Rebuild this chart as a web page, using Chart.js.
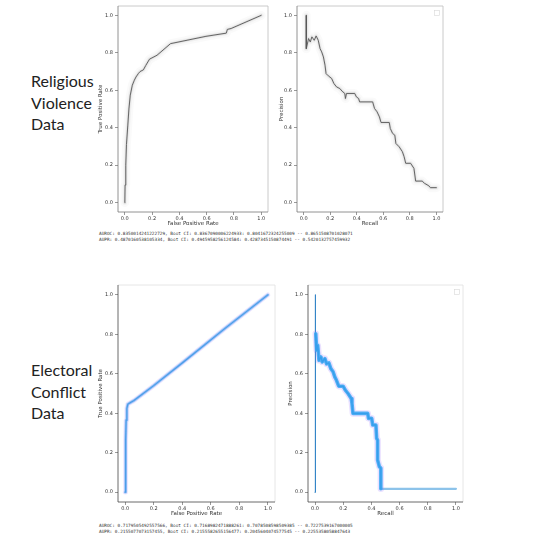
<!DOCTYPE html>
<html>
<head>
<meta charset="utf-8">
<script src="https://cdn.jsdelivr.net/npm/chart.js@4.4.1/dist/chart.umd.min.js"></script>
<style>
  html, body { margin: 0; padding: 0; background: #fff; }
  #page { position: relative; width: 540px; height: 540px; overflow: hidden; }
  canvas { position: absolute; }
  .label { position: absolute; font-family: Lato, sans-serif; font-size: 16px; line-height: 21.5px; color: #222; }
  .stats { position: absolute; font-family: 'DejaVu Sans Mono', monospace; font-size: 4.4px; line-height: 5.5px; color: #333; white-space: pre; }
</style>
</head>
<body>
<div id="page">
  <div class="label" style="left:31px; top:70px;">Religious<br>Violence<br>Data</div>
  <div class="label" style="left:31px; top:359px;">Electoral<br>Conflict<br>Data</div>

  <canvas id="rvRoc" width="180" height="230" style="left:90px; top:0px;"></canvas>
  <canvas id="rvPr" width="180" height="230" style="left:270px; top:0px;"></canvas>
  <canvas id="ecRoc" width="190" height="240" style="left:90px; top:280px;"></canvas>
  <canvas id="ecPr" width="190" height="240" style="left:280px; top:280px;"></canvas>

  <div class="stats" id="rvStats" style="left:99px; top:231px;"></div>
  <div class="stats" id="ecStats" style="left:99px; top:523px;"></div>
</div>

<script>
// tick labels shared by every axis
const tickValues = [0, 0.2, 0.4, 0.6, 0.8, 1.0];

// Religious violence - ROC
const rvRocFpr = [0, 0.002, 0.007, 0.012, 0.022, 0.03, 0.04, 0.055, 0.07, 0.082, 0.1, 0.112, 0.136, 0.154, 0.181, 0.236, 0.335, 0.595, 0.744, 0.752, 0.78, 1.0];
const rvRocTpr = [0, 0.094, 0.2, 0.31, 0.414, 0.5, 0.574, 0.627, 0.654, 0.671, 0.69, 0.70, 0.709, 0.733, 0.766, 0.787, 0.849, 0.888, 0.905, 0.925, 0.93, 1.0];

// Religious violence - precision / recall
const rvPrRecall = [0.02, 0.02, 0.037, 0.05, 0.062, 0.08, 0.094, 0.11, 0.124, 0.136, 0.149, 0.161, 0.169, 0.186, 0.211, 0.228, 0.248, 0.273, 0.29, 0.31, 0.315, 0.323, 0.385, 0.397, 0.414, 0.422, 0.52, 0.534, 0.553, 0.571, 0.583, 0.645, 0.653, 0.67, 0.687, 0.695, 0.72, 0.744, 0.757, 0.769, 0.806, 0.831, 0.844, 0.893, 0.911, 0.943, 0.955, 1.0];
const rvPrPrecision = [1.0, 0.822, 0.876, 0.858, 0.885, 0.867, 0.89, 0.867, 0.822, 0.805, 0.778, 0.734, 0.689, 0.677, 0.663, 0.636, 0.618, 0.609, 0.595, 0.583, 0.556, 0.583, 0.583, 0.565, 0.556, 0.538, 0.538, 0.503, 0.485, 0.458, 0.428, 0.428, 0.396, 0.37, 0.36, 0.316, 0.298, 0.272, 0.245, 0.21, 0.21, 0.183, 0.115, 0.115, 0.103, 0.09, 0.08, 0.08];

// Electoral conflict - ROC
const ecRocFpr = [0, 0.002, 0.005, 0.007, 0.012, 0.019, 0.035, 0.059, 0.2, 0.4, 0.7, 1.0];
const ecRocTpr = [0, 0.13, 0.264, 0.365, 0.424, 0.446, 0.453, 0.463, 0.54, 0.655, 0.83, 1.0];

// Electoral conflict - precision / recall
const ecPrSpikeRecall = [0, 0, 0.005];
const ecPrSpikePrecision = [0, 1.0, 0.803];
const ecPrRecall = [0.005, 0.012, 0.019, 0.028, 0.042, 0.051, 0.07, 0.082, 0.098, 0.112, 0.128, 0.14, 0.152, 0.168, 0.199, 0.215, 0.234, 0.257, 0.262, 0.269, 0.374, 0.379, 0.402, 0.409, 0.432, 0.437, 0.444, 0.444, 0.456, 0.467, 0.467];
const ecPrPrecision = [0.803, 0.719, 0.744, 0.668, 0.685, 0.66, 0.677, 0.65, 0.655, 0.626, 0.61, 0.584, 0.567, 0.537, 0.537, 0.517, 0.5, 0.475, 0.45, 0.399, 0.399, 0.374, 0.374, 0.34, 0.34, 0.273, 0.264, 0.163, 0.13, 0.121, 0.017];
const ecPrTailRecall = [0.467, 1.0];
const ecPrTailPrecision = [0.017, 0.017];

const rvStatLines = [
  'AUROC: 0.8350014241222729, Boot CI: 0.8367090006224933: 0.8041672324255009 -- 0.8651508701028071',
  'AUPR: 0.4870160538105334, Boot CI: 0.4945958256124584: 0.4287345150874491 -- 0.5420132757459932'
];
const ecStatLines = [
  'AUROC: 0.7179505492557566, Boot CI: 0.7168982471888261: 0.7078508598509385 -- 0.7227539167000005',
  'AUPR: 0.2155077073157455, Boot CI: 0.2155582655156477: 0.2045604074577545 -- 0.2255358058847643'
];

document.getElementById('rvStats').textContent = rvStatLines.join('\n');
document.getElementById('ecStats').textContent = ecStatLines.join('\n');

function toPoints(xs, ys) {
  return xs.map((x, i) => ({ x: x, y: ys[i] }));
}

// one curve drawn several times, wide and faint underneath, thin on top
function glowCurve(xs, ys, layers) {
  const pts = toPoints(xs, ys);
  return layers.map((layer, i) => ({
    data: pts,
    showLine: true,
    borderColor: layer.color,
    borderWidth: layer.width,
    pointRadius: 0,
    tension: 0,
    borderJoinStyle: 'round',
    borderCapStyle: 'round',
    order: layers.length - i + (layer.order || 0),
  }));
}

const framePlugin = {
  id: 'frame',
  afterDatasetsDraw(chart, args, opts) {
    const { ctx, chartArea: { left, top, right, bottom } } = chart;
    ctx.save();
    ctx.lineWidth = 0.8;
    ctx.strokeStyle = opts.light;
    ctx.beginPath();
    ctx.moveTo(left, top);
    ctx.lineTo(right, top);
    ctx.lineTo(right, bottom);
    ctx.stroke();
    ctx.strokeStyle = opts.dark;
    ctx.beginPath();
    ctx.moveTo(left, top);
    ctx.lineTo(left, bottom);
    ctx.lineTo(right, bottom);
    ctx.stroke();
    if (opts.legend) {
      ctx.lineWidth = 0.6;
      ctx.strokeStyle = '#d8d8d8';
      ctx.strokeRect(right - 8.5, top + 4.5, 5, 5);
    }
    ctx.restore();
  }
};

function axis(title, fitSize, horizontal, titlePad) {
  return {
    type: 'linear',
    min: -0.05,
    max: 1.05,
    afterBuildTicks: (scale) => { scale.ticks = tickValues.map((v) => ({ value: v })); },
    afterFit: (scale) => { if (horizontal) scale.height = fitSize; else scale.width = fitSize; },
    ticks: {
      font: { size: 5, family: 'DejaVu Sans' },
      color: '#333',
      padding: horizontal ? 1 : 2,
      maxRotation: 0,
      autoSkip: false,
      callback: (v) => Number(v).toFixed(1),
    },
    grid: { display: true, drawOnChartArea: false, drawTicks: true, tickLength: 3, color: '#555', lineWidth: 0.6 },
    border: { display: false },
    title: {
      display: true,
      text: title,
      color: '#333',
      font: { size: 5.5, family: 'DejaVu Sans' },
      padding: horizontal ? { top: 0, bottom: titlePad } : { top: titlePad, bottom: 0 },
    },
  };
}

function makePanel({ id, datasets, xTitle, yTitle, yWidth, xHeight, yTitlePad, xTitlePad, padding, frame }) {
  const ctx = document.getElementById(id).getContext('2d');
  return new Chart(ctx, {
    type: 'scatter',
    data: { datasets },
    options: {
      animation: false,
      responsive: false,
      layout: { padding },
      plugins: {
        legend: { display: false },
        tooltip: { enabled: false },
        frame,
      },
      scales: {
        x: axis(xTitle, xHeight, true, xTitlePad),
        y: axis(yTitle, yWidth, false, yTitlePad),
      },
    },
    plugins: [framePlugin],
  });
}

const grayLayers = [
  { color: '#626262', width: 0.9 },
  { color: 'rgba(0,0,0,0.07)', width: 2.5 },
  { color: 'rgba(0,0,0,0.035)', width: 5 },
  { color: 'rgba(0,0,0,0.02)', width: 9 },
];

makePanel({
  id: 'rvRoc',
  datasets: glowCurve(rvRocFpr, rvRocTpr, grayLayers),
  xTitle: 'False Positive Rate',
  yTitle: 'True Positive Rate',
  yWidth: 28, xHeight: 18, yTitlePad: 7, xTitlePad: 3,
  padding: { top: 6, right: 2, left: 0, bottom: 0 },
  frame: { light: '#bdbdbd', dark: '#777' },
});

makePanel({
  id: 'rvPr',
  datasets: glowCurve(rvPrRecall, rvPrPrecision, grayLayers),
  xTitle: 'Recall',
  yTitle: 'Precision',
  yWidth: 27, xHeight: 18, yTitlePad: 8, xTitlePad: 3,
  padding: { top: 6, right: 7, left: 0, bottom: 0 },
  frame: { light: '#bdbdbd', dark: '#777', legend: true },
});

makePanel({
  id: 'ecRoc',
  datasets: glowCurve(ecRocFpr, ecRocTpr, [
    { color: '#2f93d8', width: 1.2 },
    { color: 'rgba(50,170,235,0.55)', width: 2.8 },
    { color: 'rgba(175,140,255,0.22)', width: 4.8 },
  ]),
  xTitle: 'False Positive Rate',
  yTitle: 'True Positive Rate',
  yWidth: 28, xHeight: 18, yTitlePad: 7, xTitlePad: 3,
  padding: { top: 4, right: 5, left: 0, bottom: 0 },
  frame: { light: '#e0e0e0', dark: '#444' },
});

makePanel({
  id: 'ecPr',
  datasets: [
    ...glowCurve(ecPrSpikeRecall, ecPrSpikePrecision, [{ color: '#2a7fc4', width: 1.1 }]),
    ...glowCurve(ecPrRecall, ecPrPrecision, [
      { color: '#1f6fb6', width: 1.5, order: -5 },
      { color: 'rgba(25,180,240,0.85)', width: 3.6, order: -5 },
      { color: 'rgba(160,120,255,0.22)', width: 6.5, order: -5 },
    ]),
    ...glowCurve(ecPrTailRecall, ecPrTailPrecision, [{ color: '#8cc3ea', width: 2.2, order: 5 }]),
  ],
  xTitle: 'Recall',
  yTitle: 'Precision',
  yWidth: 28, xHeight: 18, yTitlePad: 7, xTitlePad: 3,
  padding: { top: 4, right: 7, left: 0, bottom: 0 },
  frame: { light: '#e0e0e0', dark: '#444', legend: true },
});
</script>
</body>
</html>
